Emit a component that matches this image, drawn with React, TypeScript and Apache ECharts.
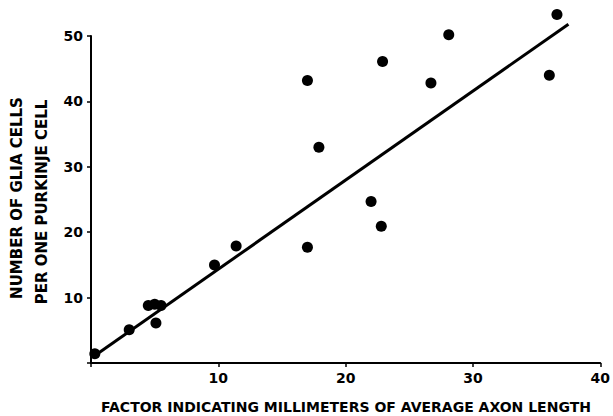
import React, { useEffect, useRef } from 'react';
import * as echarts from 'echarts';

// Axon-length factor (x) vs glia cells per Purkinje cell (y)
const xValues = [0.3, 3.0, 4.5, 5.0, 5.5, 5.1, 9.7, 11.4, 17.0, 17.0, 17.9, 22.0, 22.8, 22.9, 26.7, 28.1, 36.0, 36.6];
const yValues = [1.4, 5.1, 8.8, 9.0, 8.8, 6.1, 15.0, 17.9, 17.7, 43.2, 33.0, 24.7, 20.9, 46.1, 42.8, 50.2, 44.0, 53.3];

// Regression line end points
const fitX = [0.2, 37.5];
const fitY = [1.0, 51.8];

const xAxisName = 'FACTOR INDICATING MILLIMETERS OF AVERAGE AXON LENGTH';
const yAxisName1 = 'NUMBER OF GLIA CELLS';
const yAxisName2 = 'PER ONE PURKINJE CELL';

const FONT = '"DejaVu Sans", sans-serif';
const INK = '#000';

export default function App() {
  const ref = useRef<HTMLDivElement>(null);
  useEffect(() => {
    const chart = echarts.init(ref.current!, null, { renderer: 'svg' });
    const points = xValues.map((x, i) => [x, yValues[i]]);
    const fit = fitX.map((x, i) => [x, fitY[i]]);
    chart.setOption({
      animation: false,
      backgroundColor: '#fff',
      grid: { left: 91, right: 11, top: 36, bottom: 53, containLabel: false },
      xAxis: {
        type: 'value',
        min: 0,
        max: 40,
        interval: 10,
        splitLine: { show: false },
        axisLine: { show: true, lineStyle: { color: INK, width: 2 } },
        axisTick: { show: true, length: 4, lineStyle: { color: INK, width: 1.5 } },
        axisLabel: {
          margin: 8,
          color: INK,
          fontFamily: FONT,
          fontWeight: 'bold',
          fontSize: 14,
          formatter: (v: number) => (v === 0 ? '' : String(v)),
        },
      },
      yAxis: {
        type: 'value',
        min: 0,
        max: 50,
        interval: 10,
        splitLine: { show: false },
        axisLine: { show: true, lineStyle: { color: INK, width: 2 } },
        axisTick: { show: true, length: 4, lineStyle: { color: INK, width: 1.5 } },
        axisLabel: {
          margin: 8,
          color: INK,
          fontFamily: FONT,
          fontWeight: 'bold',
          fontSize: 14,
          formatter: (v: number) => (v === 0 ? '' : String(v)),
        },
      },
      graphic: [
        {
          type: 'text',
          x: 346,
          y: 407,
          style: {
            text: xAxisName,
            fill: INK,
            font: `bold 14px ${FONT}`,
            textAlign: 'center',
            textVerticalAlign: 'middle',
          },
        },
        {
          type: 'text',
          x: 17,
          y: 198,
          rotation: Math.PI / 2,
          style: {
            text: yAxisName1,
            fill: INK,
            font: `bold 15px ${FONT}`,
            textAlign: 'center',
            textVerticalAlign: 'middle',
          },
        },
        {
          type: 'text',
          x: 41.5,
          y: 202,
          rotation: Math.PI / 2,
          style: {
            text: yAxisName2,
            fill: INK,
            font: `bold 15px ${FONT}`,
            textAlign: 'center',
            textVerticalAlign: 'middle',
          },
        },
      ],
      series: [
        {
          type: 'line',
          data: fit,
          symbol: 'none',
          clip: false,
          lineStyle: { color: INK, width: 3 },
          z: 1,
        },
        {
          type: 'scatter',
          data: points,
          symbol: 'circle',
          symbolSize: 11,
          itemStyle: { color: INK, opacity: 1 },
          clip: false,
          z: 2,
        },
      ],
    });
    return () => chart.dispose();
  }, []);
  return <div ref={ref} style={{ position: 'absolute', left: 0, top: 0, width: 613, height: 416 }} />;
}
